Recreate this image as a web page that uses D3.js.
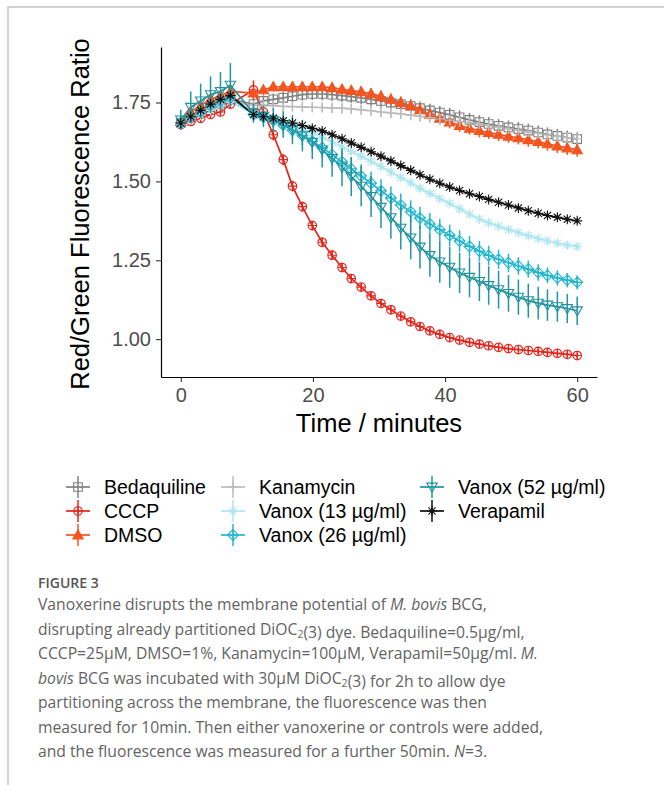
<!DOCTYPE html>
<html>
<head>
<meta charset="utf-8">
<script src="https://cdn.jsdelivr.net/npm/d3@7"></script>
<style>
  body { margin: 0; background: #fff; }
</style>
</head>
<body>
<div class="box"></div>
<script>
// time points (minutes)
const times = [0, 1.5, 3, 4.5, 6, 7.5, 11.0, 12.5, 14.0, 15.5, 16.9, 18.4, 19.9, 21.4, 22.9, 24.4, 25.8, 27.3, 28.8, 30.3,
               31.8, 33.3, 34.8, 36.2, 37.7, 39.2, 40.7, 42.2, 43.7, 45.2, 46.6, 48.1, 49.6, 51.1, 52.6, 54.1, 55.5, 57.0, 58.5, 60.0];

// mean ratio per treatment
const bedaquiline = [1.685, 1.70, 1.72, 1.735, 1.75, 1.76, 1.745, 1.755, 1.76, 1.765, 1.77, 1.775, 1.777, 1.777, 1.775, 1.772, 1.769, 1.765, 1.76, 1.755,
                     1.75, 1.745, 1.739, 1.732, 1.725, 1.718, 1.711, 1.703, 1.695, 1.688, 1.682, 1.676, 1.671, 1.666, 1.661, 1.655, 1.649, 1.644, 1.639, 1.634];
const cccp = [1.68, 1.69, 1.70, 1.712, 1.72, 1.745, 1.79, 1.72, 1.648, 1.569, 1.485, 1.42, 1.36, 1.307, 1.266, 1.227, 1.192, 1.165, 1.137, 1.113,
              1.093, 1.073, 1.055, 1.04, 1.026, 1.015, 1.005, 0.997, 0.99, 0.984, 0.979, 0.974, 0.97, 0.967, 0.964, 0.961, 0.958, 0.955, 0.952, 0.948];
const dmso = [1.69, 1.72, 1.74, 1.76, 1.772, 1.785, 1.78, 1.79, 1.80, 1.80, 1.80, 1.80, 1.80, 1.80, 1.797, 1.792, 1.788, 1.784, 1.778, 1.77,
              1.76, 1.75, 1.74, 1.727, 1.713, 1.70, 1.688, 1.677, 1.668, 1.661, 1.655, 1.649, 1.643, 1.638, 1.632, 1.626, 1.619, 1.612, 1.606, 1.60];
const kanamycin = [1.685, 1.70, 1.715, 1.73, 1.742, 1.752, 1.742, 1.74, 1.74, 1.738, 1.737, 1.736, 1.735, 1.734, 1.733, 1.732, 1.73, 1.727, 1.724, 1.72,
                   1.717, 1.714, 1.71, 1.706, 1.702, 1.698, 1.694, 1.69, 1.686, 1.682, 1.677, 1.672, 1.667, 1.662, 1.657, 1.652, 1.647, 1.643, 1.639, 1.635];
const vanox13 = [1.68, 1.695, 1.71, 1.725, 1.74, 1.752, 1.715, 1.708, 1.70, 1.69, 1.68, 1.668, 1.655, 1.64, 1.625, 1.61, 1.595, 1.58, 1.563, 1.547,
                 1.53, 1.512, 1.495, 1.478, 1.462, 1.446, 1.43, 1.413, 1.396, 1.381, 1.369, 1.358, 1.347, 1.337, 1.328, 1.319, 1.311, 1.304, 1.298, 1.294];
const vanox26 = [1.685, 1.705, 1.72, 1.74, 1.755, 1.765, 1.712, 1.703, 1.692, 1.678, 1.662, 1.645, 1.627, 1.607, 1.585, 1.562, 1.54, 1.517, 1.494, 1.47,
                 1.447, 1.425, 1.404, 1.384, 1.365, 1.347, 1.329, 1.311, 1.294, 1.279, 1.265, 1.253, 1.242, 1.232, 1.222, 1.211, 1.202, 1.194, 1.187, 1.18];
const vanox52 = [1.695, 1.735, 1.755, 1.775, 1.785, 1.805, 1.716, 1.706, 1.694, 1.68, 1.664, 1.645, 1.624, 1.60, 1.573, 1.545, 1.515, 1.485, 1.452, 1.418,
                 1.385, 1.352, 1.321, 1.292, 1.265, 1.245, 1.228, 1.21, 1.196, 1.183, 1.17, 1.157, 1.145, 1.133, 1.122, 1.114, 1.108, 1.103, 1.097, 1.09];
const verapamil = [1.685, 1.705, 1.725, 1.745, 1.76, 1.772, 1.712, 1.705, 1.70, 1.692, 1.685, 1.677, 1.668, 1.66, 1.648, 1.635, 1.622, 1.608, 1.594, 1.58,
                   1.565, 1.55, 1.535, 1.521, 1.507, 1.494, 1.482, 1.471, 1.461, 1.452, 1.443, 1.434, 1.425, 1.416, 1.407, 1.399, 1.392, 1.386, 1.38, 1.375];

// error (+/-) per treatment
const bedaquilineErr = [0.010, 0.012, 0.012, 0.014, 0.014, 0.015, 0.018, 0.018, 0.018, 0.018, 0.019, 0.019, 0.019, 0.020, 0.020, 0.020, 0.020, 0.020, 0.021, 0.021,
                        0.021, 0.021, 0.021, 0.021, 0.021, 0.021, 0.022, 0.022, 0.022, 0.022, 0.022, 0.022, 0.022, 0.022, 0.022, 0.022, 0.022, 0.022, 0.022, 0.022];
const cccpErr = [0.012, 0.012, 0.012, 0.012, 0.012, 0.014, 0.030, 0.020, 0.018, 0.018, 0.017, 0.016, 0.015, 0.015, 0.014, 0.014, 0.013, 0.013, 0.012, 0.012,
                 0.012, 0.011, 0.011, 0.011, 0.010, 0.010, 0.010, 0.010, 0.010, 0.010, 0.010, 0.010, 0.010, 0.010, 0.010, 0.010, 0.010, 0.010, 0.010, 0.010];
const dmsoErr = [0.010, 0.012, 0.012, 0.013, 0.013, 0.014, 0.015, 0.015, 0.015, 0.015, 0.016, 0.016, 0.016, 0.016, 0.017, 0.017, 0.017, 0.018, 0.018, 0.018,
                 0.018, 0.019, 0.019, 0.019, 0.020, 0.020, 0.020, 0.020, 0.020, 0.021, 0.021, 0.021, 0.021, 0.021, 0.022, 0.022, 0.022, 0.022, 0.022, 0.022];
const kanamycinErr = [0.010, 0.011, 0.012, 0.012, 0.013, 0.013, 0.014, 0.014, 0.014, 0.015, 0.015, 0.015, 0.015, 0.015, 0.016, 0.016, 0.016, 0.016, 0.016, 0.016,
                      0.016, 0.016, 0.016, 0.016, 0.016, 0.016, 0.016, 0.016, 0.016, 0.016, 0.016, 0.016, 0.016, 0.016, 0.016, 0.016, 0.016, 0.016, 0.016, 0.016];
const vanox13Err = [0.010, 0.010, 0.010, 0.010, 0.010, 0.010, 0.010, 0.010, 0.010, 0.010, 0.010, 0.010, 0.011, 0.011, 0.011, 0.011, 0.011, 0.011, 0.011, 0.011,
                    0.011, 0.011, 0.011, 0.011, 0.011, 0.011, 0.011, 0.011, 0.011, 0.011, 0.011, 0.011, 0.011, 0.011, 0.011, 0.011, 0.011, 0.011, 0.011, 0.011];
const vanox26Err = [0.012, 0.014, 0.015, 0.015, 0.016, 0.018, 0.020, 0.022, 0.024, 0.026, 0.028, 0.030, 0.032, 0.033, 0.034, 0.035, 0.036, 0.037, 0.037, 0.037,
                    0.037, 0.037, 0.036, 0.036, 0.035, 0.035, 0.034, 0.034, 0.033, 0.032, 0.031, 0.030, 0.029, 0.028, 0.027, 0.026, 0.025, 0.024, 0.023, 0.022];
const vanox52Err = [0.032, 0.050, 0.055, 0.058, 0.062, 0.070, 0.030, 0.034, 0.038, 0.042, 0.046, 0.050, 0.053, 0.056, 0.058, 0.060, 0.062, 0.064, 0.065, 0.066,
                    0.067, 0.068, 0.068, 0.068, 0.067, 0.066, 0.065, 0.064, 0.063, 0.062, 0.061, 0.060, 0.058, 0.056, 0.054, 0.052, 0.050, 0.048, 0.046, 0.045];
const verapamilErr = [0.006, 0.006, 0.006, 0.007, 0.007, 0.007, 0.008, 0.008, 0.008, 0.008, 0.008, 0.008, 0.008, 0.008, 0.008, 0.008, 0.008, 0.008, 0.008, 0.008,
                      0.008, 0.008, 0.008, 0.008, 0.008, 0.008, 0.008, 0.008, 0.008, 0.008, 0.008, 0.008, 0.008, 0.008, 0.008, 0.008, 0.008, 0.008, 0.008, 0.008];

const names = ['Bedaquiline', 'CCCP', 'DMSO', 'Kanamycin', 'Vanox (13 µg/ml)', 'Vanox (26 µg/ml)', 'Vanox (52 µg/ml)', 'Verapamil'];
const means = [bedaquiline, cccp, dmso, kanamycin, vanox13, vanox26, vanox52, verapamil];
const errors = [bedaquilineErr, cccpErr, dmsoErr, kanamycinErr, vanox13Err, vanox26Err, vanox52Err, verapamilErr];

const xTicks = [0, 20, 40, 60];
const yTicks = [1.00, 1.25, 1.50, 1.75];

// styles
const colours = ['#808080', '#e4261d', '#f4541f', '#bcbcbc', '#ade6ef', '#22b6cf', '#22939f', '#111111'];
const shapes = ['square', 'circlePlus', 'triangle', 'plus', 'asterisk', 'diamondPlus', 'triangleDown', 'asterisk'];

const svg = d3.select('.box')
              .append('svg')
              .attr('width', 664)
              .attr('height', 785)
              .style('display', 'block')
              .style('background', '#fff');

// frame of the figure page
svg.append('line').attr('x1', 7).attr('x2', 664).attr('y1', 7).attr('y2', 7)
   .attr('stroke', '#c4c4c4').attr('stroke-width', 1.5);
svg.append('line').attr('x1', 8).attr('x2', 8).attr('y1', 7).attr('y2', 785)
   .attr('stroke', '#c4c4c4').attr('stroke-width', 1.5);

// Dimensions
const margin = {top: 47, right: 67, bottom: 408, left: 161};
const graphWidth = 664 - margin.left - margin.right;
const graphHeight = 785 - margin.top - margin.bottom;

const graph = svg.append('g')
                 .attr('transform', `translate(${margin.left}, ${margin.top})`);

const x = d3.scaleLinear().domain([-3, 63]).range([0, graphWidth]);
const y = d3.scaleLinear().domain([0.88, 1.926]).range([graphHeight, 0]);

const font = '"Liberation Sans", Arial, Helvetica, sans-serif';

// shapes drawn as paths around (0,0)
function shapePath(type) {
  const p = d3.path();
  const r = 4.3;
  if (type === 'square') {
    p.rect(-r, -r, 2 * r, 2 * r);
  } else if (type === 'circlePlus') {
    p.moveTo(r, 0); p.arc(0, 0, r, 0, 2 * Math.PI);
    p.moveTo(-r, 0); p.lineTo(r, 0); p.moveTo(0, -r); p.lineTo(0, r);
  } else if (type === 'triangle' || type === 'triangleDown') {
    const s = type === 'triangle' ? 1 : -1;
    const h = 5.2;
    p.moveTo(0, -s * h); p.lineTo(h, s * h * 0.75); p.lineTo(-h, s * h * 0.75); p.closePath();
  } else if (type === 'plus') {
    const q = 5.2;
    p.moveTo(-q, 0); p.lineTo(q, 0); p.moveTo(0, -q); p.lineTo(0, q);
  } else if (type === 'asterisk') {
    const q = 5, d = 3.6;
    p.moveTo(-q, 0); p.lineTo(q, 0); p.moveTo(0, -q); p.lineTo(0, q);
    p.moveTo(-d, -d); p.lineTo(d, d); p.moveTo(-d, d); p.lineTo(d, -d);
  } else if (type === 'diamondPlus') {
    const q = 5.4;
    p.moveTo(0, -q); p.lineTo(q, 0); p.lineTo(0, q); p.lineTo(-q, 0); p.closePath();
    p.moveTo(-q, 0); p.lineTo(q, 0); p.moveTo(0, -q); p.lineTo(0, q);
  }
  return p.toString();
}

const seriesData = names.map((name, i) => ({
  name: name,
  i: i,
  values: times.map((t, j) => ({t: t, v: means[i][j], e: errors[i][j]}))
}));

const line = d3.line().x(d => x(d.t)).y(d => y(d.v));

// lines
graph.selectAll('path.series')
     .data(seriesData)
     .enter()
     .append('path')
     .attr('class', 'series')
     .attr('d', d => line(d.values))
     .attr('fill', 'none')
     .attr('stroke', d => colours[d.i])
     .attr('stroke-width', 1.7);

// points and error bars, series by series
seriesData.forEach(s => {
  const g = graph.append('g');
  g.selectAll('line')
   .data(s.values)
   .enter()
   .append('line')
   .attr('x1', d => x(d.t)).attr('x2', d => x(d.t))
   .attr('y1', d => y(d.v - d.e)).attr('y2', d => y(d.v + d.e))
   .attr('stroke', colours[s.i])
   .attr('stroke-width', 1.5);
  g.selectAll('path')
   .data(s.values)
   .enter()
   .append('path')
   .attr('transform', d => `translate(${x(d.t)}, ${y(d.v)})`)
   .attr('d', shapePath(shapes[s.i]))
   .attr('fill', shapes[s.i] === 'triangle' ? colours[s.i] : 'none')
   .attr('stroke', colours[s.i])
   .attr('stroke-width', 1.1);
});

// Axes
const axeX = d3.axisBottom(x).tickValues(xTicks).tickSize(5).tickSizeOuter(0).tickPadding(6);
const axeY = d3.axisLeft(y).tickValues(yTicks).tickFormat(d3.format('.2f')).tickSize(5).tickSizeOuter(0).tickPadding(5);

const groupeX = graph.append('g').attr('transform', `translate(0, ${graphHeight})`).call(axeX);
const groupeY = graph.append('g').call(axeY);

[groupeX, groupeY].forEach(gr => {
  gr.select('.domain').attr('stroke', '#000').attr('stroke-width', 1.2);
  gr.selectAll('.tick line').attr('stroke', '#333').attr('stroke-width', 1.1);
  gr.selectAll('.tick text').attr('fill', '#4d4d4d').style('font-family', font).style('font-size', '20px');
});

// axis titles
graph.append('text')
     .attr('x', x(30))
     .attr('y', graphHeight + 55)
     .attr('text-anchor', 'middle')
     .style('font-family', font)
     .style('font-size', '25.5px')
     .attr('fill', '#000')
     .text('Time / minutes');

graph.append('text')
     .attr('transform', `translate(-72, ${graphHeight / 2 + 2}) rotate(-90)`)
     .attr('text-anchor', 'middle')
     .style('font-family', font)
     .style('font-size', '25.5px')
     .attr('fill', '#000')
     .text('Red/Green Fluorescence Ratio');

// Legend
const legendCols = [78, 233, 432];
const legend = svg.append('g');
names.forEach((name, i) => {
  const cx = legendCols[Math.floor(i / 3)];
  const cy = 487 + (i % 3) * 24;
  const item = legend.append('g').attr('transform', `translate(${cx}, ${cy})`);
  item.append('line').attr('x1', -12).attr('x2', 12).attr('y1', 0).attr('y2', 0)
      .attr('stroke', colours[i]).attr('stroke-width', 1.7);
  item.append('line').attr('x1', 0).attr('x2', 0).attr('y1', -11).attr('y2', 11)
      .attr('stroke', colours[i]).attr('stroke-width', 1.5);
  item.append('path').attr('d', shapePath(shapes[i]))
      .attr('fill', shapes[i] === 'triangle' ? colours[i] : 'none')
      .attr('stroke', colours[i]).attr('stroke-width', 1.1);
  legend.append('text')
        .attr('x', cx + 26)
        .attr('y', cy + 7)
        .style('font-family', font)
        .style('font-size', '19.5px')
        .attr('fill', '#000')
        .text(name);
});

// Caption
const capFont = '"Open Sans", "Noto Sans", sans-serif';
svg.append('text')
   .attr('x', 38).attr('y', 588)
   .style('font-family', capFont).style('font-size', '14px').style('font-weight', 600)
   .attr('fill', '#555')
   .text('FIGURE 3');

const captionLines = [
  [['Vanoxerine disrupts the membrane potential of '], ['M. bovis', 'i'], [' BCG,']],
  [['disrupting already partitioned DiOC'], ['2', 's'], ['(3) dye. Bedaquiline=0.5µg/ml,']],
  [['CCCP=25µM, DMSO=1%, Kanamycin=100µM, Verapamil=50µg/ml. '], ['M.', 'i']],
  [['bovis', 'i'], [' BCG was incubated with 30µM DiOC'], ['2', 's'], ['(3) for 2h to allow dye']],
  [['partitioning across the membrane, the fluorescence was then']],
  [['measured for 10min. Then either vanoxerine or controls were added,']],
  [['and the fluorescence was measured for a further 50min. '], ['N', 'i'], ['=3.']]
];

captionLines.forEach((segs, k) => {
  const t = svg.append('text')
               .attr('x', 38)
               .attr('y', 610 + k * 24.5)
               .style('font-family', capFont)
               .style('font-size', '15.7px')
               .attr('fill', '#636363');
  segs.forEach(s => {
    const ts = t.append('tspan').text(s[0]);
    if (s[1] === 'i') ts.style('font-style', 'italic');
    if (s[1] === 's') {
      ts.attr('dy', 3).style('font-size', '10.5px');
      t.append('tspan').attr('dy', -3).text('');
    }
  });
});
</script>
</body>
</html>
